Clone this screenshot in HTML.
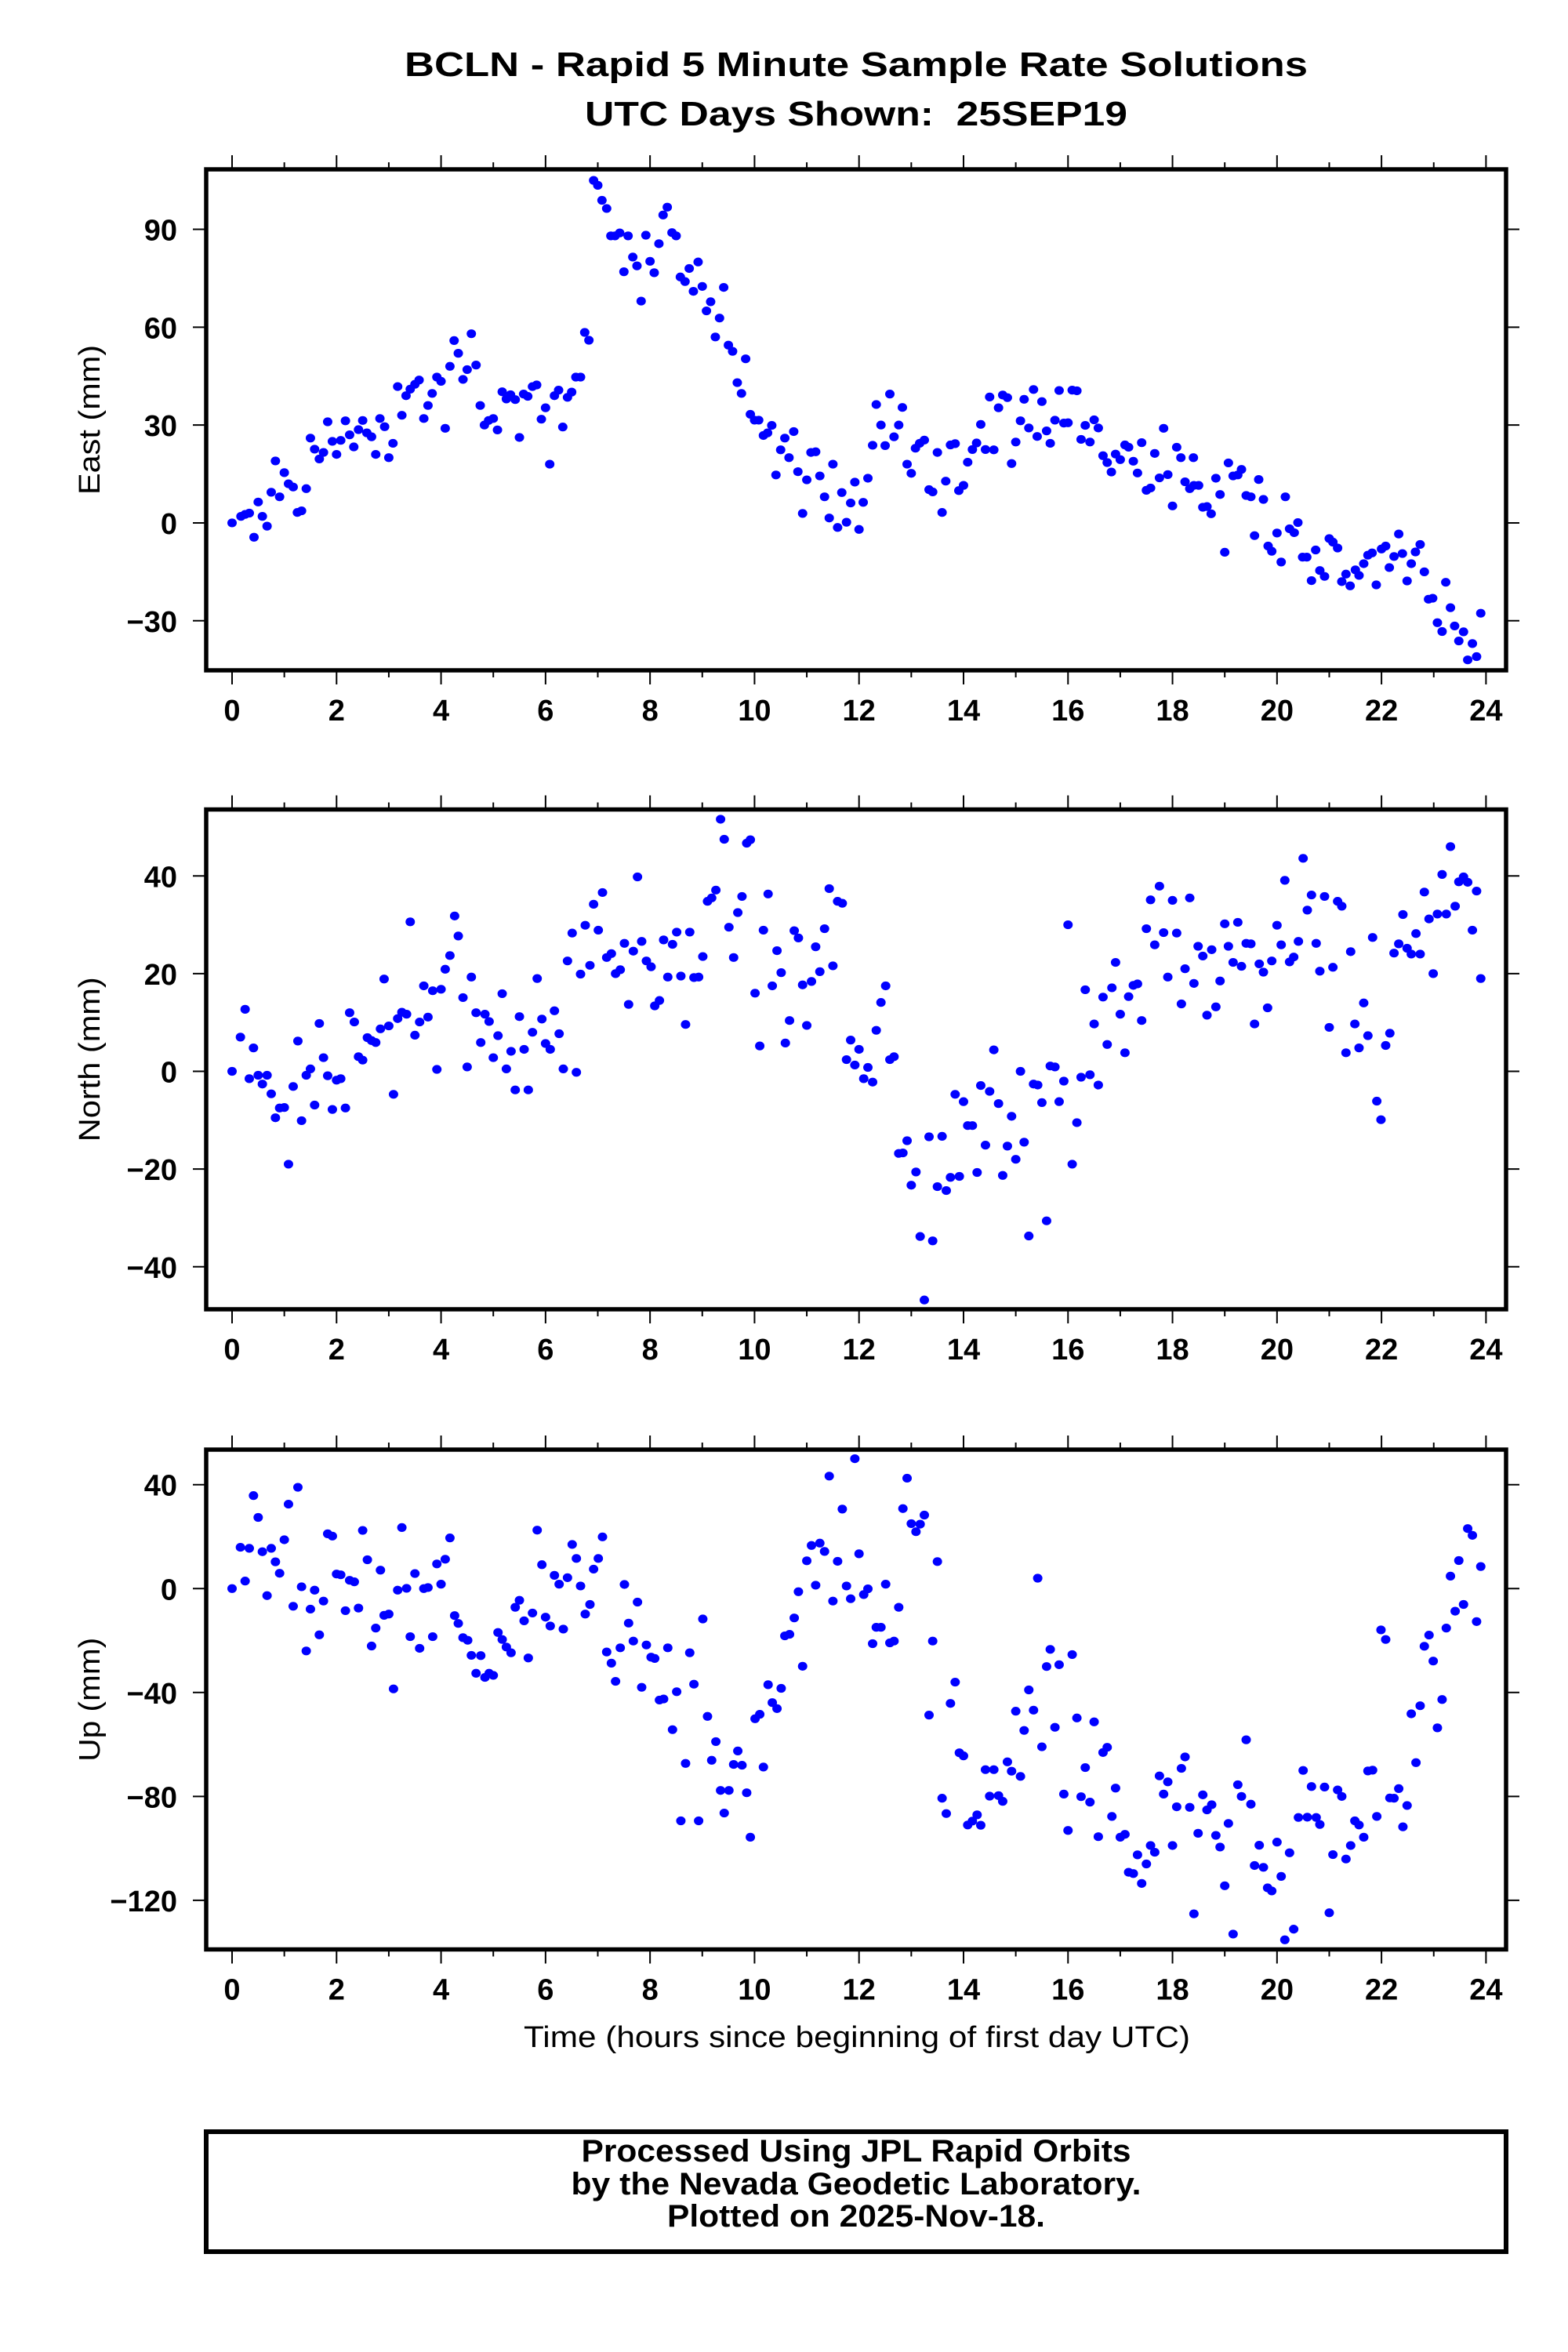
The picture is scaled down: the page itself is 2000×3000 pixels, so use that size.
<!DOCTYPE html>
<html><head><meta charset="utf-8"><title>BCLN Rapid 5 Minute Solutions</title>
<style>html,body{margin:0;padding:0;background:#fff}svg{display:block}text{font-family:"Liberation Sans",Arial,sans-serif}</style>
</head><body>
<svg id="chart" xmlns="http://www.w3.org/2000/svg" width="2000" height="3000" viewBox="0 0 2000 3000">
<rect width="2000" height="3000" fill="#fff"/>
<text x="1092" y="97" font-size="44" font-weight="bold" text-anchor="middle" textLength="1152" lengthAdjust="spacingAndGlyphs">BCLN - Rapid 5 Minute Sample Rate Solutions</text>
<text x="1092" y="160" font-size="44" font-weight="bold" text-anchor="middle" textLength="692" lengthAdjust="spacingAndGlyphs" xml:space="preserve">UTC Days Shown:  25SEP19</text>
<g id="panels"></g>
<text x="1093" y="2611" font-size="38" text-anchor="middle" textLength="850" lengthAdjust="spacingAndGlyphs">Time (hours since beginning of first day UTC)</text>
<rect x="263" y="2719" width="1658" height="153" fill="none" stroke="#000" stroke-width="6"/>
<text x="1092" y="2757" font-size="40" font-weight="bold" text-anchor="middle" textLength="701" lengthAdjust="spacingAndGlyphs">Processed Using JPL Rapid Orbits</text>
<text x="1092" y="2799" font-size="40" font-weight="bold" text-anchor="middle" textLength="727" lengthAdjust="spacingAndGlyphs">by the Nevada Geodetic Laboratory.</text>
<text x="1092" y="2840" font-size="40" font-weight="bold" text-anchor="middle" textLength="482" lengthAdjust="spacingAndGlyphs">Plotted on 2025-Nov-18.</text>
</svg>
<script>
const xTickLabels = ["0","2","4","6","8","10","12","14","16","18","20","22","24"];
const eastTicks = [-30,0,30,60,90];
const northTicks = [-40,-20,0,20,40];
const upTicks = [-120,-80,-40,0,40];

const eastHours = [0,0.17,0.25,0.33,0.42,0.5,0.58,0.67,0.75,0.83,0.91,1.0,1.08,1.17,1.25,1.33,1.42,1.5,1.58,1.67,1.75,1.83,1.92,2.0,2.08,2.17,2.25,2.33,2.42,2.5,2.58,2.67,2.75,2.83,2.92,3.0,3.08,3.17,3.25,3.33,3.41,3.5,3.58,3.67,3.75,3.83,3.92,4.0,4.08,4.17,4.25,4.33,4.42,4.5,4.58,4.67,4.75,4.83,4.91,5.0,5.08,5.17,5.25,5.33,5.42,5.5,5.58,5.66,5.75,5.83,5.92,6.0,6.08,6.17,6.25,6.33,6.42,6.5,6.58,6.67,6.75,6.83,6.92,7.0,7.08,7.17,7.25,7.33,7.42,7.5,7.58,7.67,7.75,7.83,7.92,8.0,8.08,8.17,8.25,8.33,8.42,8.5,8.58,8.67,8.75,8.83,8.92,9.0,9.08,9.16,9.25,9.33,9.41,9.5,9.58,9.67,9.75,9.83,9.92,10.0,10.08,10.17,10.25,10.33,10.41,10.5,10.58,10.66,10.75,10.83,10.92,11.0,11.08,11.17,11.25,11.34,11.43,11.5,11.59,11.67,11.76,11.84,11.92,12.0,12.08,12.17,12.26,12.33,12.42,12.5,12.59,12.67,12.76,12.83,12.92,13.0,13.08,13.16,13.25,13.34,13.41,13.5,13.59,13.66,13.75,13.84,13.91,14.0,14.08,14.17,14.25,14.33,14.42,14.5,14.58,14.67,14.75,14.84,14.92,15.0,15.09,15.16,15.25,15.34,15.41,15.5,15.59,15.66,15.75,15.83,15.92,16.0,16.08,16.17,16.25,16.33,16.42,16.5,16.58,16.67,16.75,16.83,16.91,17.0,17.09,17.16,17.25,17.33,17.41,17.5,17.58,17.66,17.75,17.83,17.91,18.0,18.08,18.16,18.24,18.33,18.4,18.41,18.5,18.58,18.66,18.74,18.83,18.91,19.0,19.07,19.16,19.25,19.32,19.41,19.5,19.57,19.65,19.74,19.83,19.9,20.0,20.08,20.16,20.24,20.33,20.4,20.49,20.57,20.66,20.74,20.82,20.91,21.0,21.07,21.16,21.24,21.32,21.4,21.5,21.57,21.66,21.74,21.82,21.9,22.0,22.08,22.15,22.24,22.33,22.4,22.49,22.57,22.65,22.74,22.82,22.9,22.98,23.07,23.16,23.23,23.32,23.4,23.48,23.57,23.65,23.74,23.82,23.9];
const eastValues = [0,2,2.6,3,-4.4,6.4,2,-1,9.4,19,8,15.4,12,11,3.2,3.7,10.5,26,22.6,19.6,21.6,31,25,21,25.3,31.3,27,23.3,28.6,31.4,27.6,26.4,21,32,29.5,20,24.4,41.8,33,39,41,42.5,43.8,32,36,39.7,44.7,43.4,29,48,55.9,52,44,47,58,48.4,36,30,31.4,32,28.5,40.2,38,39.3,37.8,26.2,39.5,38.8,41.8,42.3,31.8,35.3,18,39,40.7,29.4,38.5,40.1,44.7,44.7,58.4,56,105,103.5,98.9,96.4,88,88,88.9,77,88,81.5,78.8,68,88.2,80.2,76.7,85.6,94.4,96.8,89,88,75.4,74,78,71,80,72.5,65,67.8,57,62.8,72.2,54.5,52.6,43,39.7,50.3,33.3,31.5,31.5,26.8,27.6,29.9,14.7,22.4,26,20,28,15.7,2.9,13.2,21.6,21.8,14.4,8,1.5,18,-1.4,9.3,0.2,6.1,12.5,-2,6.3,13.7,23.8,36.3,30,23.7,39.5,26.4,30,35.4,18,15.2,22.9,24.4,25.4,10.2,9.5,21.6,3.2,12.8,23.9,24.3,9.9,11.5,18.6,22.5,24.5,30.2,22.5,38.6,22.4,35.3,39.2,38.4,18.2,24.8,31.3,37.9,29.1,40.9,26.5,37.2,28.2,24.4,31.5,40.6,30.6,30.7,40.7,40.5,25.6,29.9,24.8,31.6,29.1,20.6,18.5,15.6,21.1,19.4,23.9,23.2,18.9,15.3,24.6,10,10.7,21.3,13.8,29,14.8,5.2,23.2,20,12.6,10.5,20,11.5,11.5,4.8,5,2.8,13.7,8.7,-9,18.4,14.4,14.7,16.4,8.4,8,-3.9,13.3,7.2,-7.1,-8.7,-3.1,-12,8,-1.8,-3,0.1,-10.5,-10.5,-17.7,-8.3,-14.6,-16.4,-4.8,-5.9,-7.7,-18,-15.7,-19.3,-14.4,-16.1,-12.5,-9.9,-9.2,-19,-8,-7.1,-13.7,-10.3,-3.4,-9.4,-17.8,-12.5,-8.9,-6.6,-15,-23.4,-23.1,-30.6,-33.3,-18.2,-26,-31.6,-36.2,-33.4,-42,-37,-41,-27.7];

const northHours = [0,0.16,0.25,0.33,0.41,0.5,0.58,0.67,0.75,0.83,0.91,1.0,1.08,1.17,1.26,1.33,1.42,1.5,1.58,1.67,1.75,1.83,1.92,2.0,2.08,2.17,2.25,2.34,2.42,2.5,2.59,2.67,2.75,2.84,2.91,3.0,3.09,3.17,3.25,3.34,3.41,3.5,3.59,3.67,3.75,3.84,3.92,4.0,4.08,4.17,4.26,4.33,4.42,4.5,4.58,4.67,4.76,4.84,4.92,5.0,5.09,5.17,5.25,5.34,5.42,5.5,5.59,5.67,5.75,5.84,5.93,6.0,6.09,6.17,6.26,6.34,6.42,6.51,6.59,6.67,6.76,6.85,6.92,7.01,7.09,7.17,7.26,7.34,7.43,7.51,7.59,7.68,7.76,7.84,7.93,8.02,8.09,8.18,8.26,8.34,8.43,8.51,8.59,8.68,8.76,8.84,8.93,9.01,9.1,9.18,9.26,9.35,9.42,9.51,9.6,9.68,9.76,9.85,9.92,10.01,10.1,10.17,10.26,10.34,10.43,10.51,10.59,10.67,10.76,10.84,10.92,11.0,11.09,11.17,11.25,11.34,11.43,11.5,11.59,11.68,11.76,11.84,11.92,12.0,12.09,12.17,12.26,12.33,12.42,12.51,12.59,12.67,12.76,12.84,12.92,13.0,13.09,13.17,13.25,13.34,13.41,13.5,13.59,13.67,13.75,13.84,13.92,14.0,14.08,14.17,14.26,14.33,14.42,14.5,14.58,14.67,14.75,14.84,14.92,15.0,15.09,15.16,15.25,15.34,15.42,15.5,15.59,15.66,15.75,15.83,15.92,16.0,16.08,16.17,16.25,16.33,16.42,16.5,16.58,16.67,16.75,16.84,16.91,17.0,17.09,17.16,17.25,17.33,17.41,17.5,17.58,17.66,17.75,17.83,17.91,18.0,18.08,18.17,18.24,18.33,18.41,18.49,18.58,18.66,18.75,18.83,18.91,19.0,19.07,19.16,19.25,19.32,19.41,19.5,19.57,19.66,19.74,19.82,19.9,20.0,20.08,20.15,20.24,20.32,20.41,20.5,20.58,20.66,20.75,20.82,20.91,21.0,21.07,21.16,21.24,21.32,21.41,21.49,21.57,21.66,21.74,21.83,21.91,21.99,22.08,22.16,22.24,22.33,22.41,22.49,22.57,22.66,22.74,22.82,22.91,22.99,23.07,23.16,23.24,23.32,23.41,23.48,23.57,23.65,23.74,23.82,23.9];
const northValues = [0,7,12.7,-1.5,4.8,-0.8,-2.6,-0.8,-4.6,-9.5,-7.5,-7.4,-19,-3.1,6.2,-10.1,-0.8,0.5,-6.9,9.8,2.8,-0.9,-7.8,-1.8,-1.5,-7.5,12,10.1,3,2.3,6.9,6.3,5.9,8.7,18.9,9.3,-4.7,10.8,12.1,11.7,30.6,7.4,10.1,17.5,11.1,16.5,0.4,16.8,20.9,23.7,31.8,27.7,15.1,0.9,19.3,12,5.9,11.7,10.2,2.8,7.3,15.9,0.5,4.1,-3.8,11.2,4.5,-3.8,8,19,10.7,5.7,4.5,12.4,7.7,0.5,22.6,28.3,-0.2,19.9,29.9,21.7,34.2,28.9,36.6,23.3,24.1,20,20.8,26.2,13.7,24.6,39.8,26.6,22.6,21.4,13.4,14.5,26.9,19.3,26,28.5,19.5,9.6,28.5,19.2,19.3,23.5,34.8,35.5,37.1,51.6,47.5,29.5,23.3,32.5,35.8,46.7,47.4,16,5.2,28.9,36.3,17.5,24.7,20.2,5.8,10.4,28.8,27.3,17.7,9.4,18.4,25.5,20.4,29.2,37.4,21.6,34.8,34.4,2.4,6.4,1.3,4.5,-1.5,0.8,-2.2,8.4,14.1,17.5,2.4,3,-16.8,-16.7,-14.2,-23.3,-20.6,-33.8,-46.8,-13.4,-34.7,-23.6,-13.3,-24.4,-21.7,-4.7,-21.5,-6.2,-11.1,-11.1,-20.7,-2.9,-15.1,-4.1,4.4,-6.6,-21.3,-15.3,-9.2,-18,0,-14.5,-33.7,-2.6,-2.8,-6.4,-30.6,1.1,0.9,-6.2,-2,30,-19,-10.5,-1.2,16.7,-0.7,9.7,-2.8,15.2,5.5,17.1,22.3,11.7,3.8,15.3,17.6,17.9,10.4,29.2,35.1,25.9,37.9,28.4,19.3,35,28.3,13.8,21,35.5,18,25.6,23.6,11.5,24.9,13.2,18.5,30.2,25.6,22.3,30.5,21.5,26.2,26.1,9.7,22,20.3,13,22.6,29.9,25.9,39.1,22.4,23.4,26.6,43.6,33,36.1,26.2,20.5,35.8,9,21.3,34.8,33.8,3.8,24.5,9.7,4.8,14,7.3,27.4,-6.1,-9.9,5.3,7.8,24.2,26.1,32.1,25.2,24,28.2,24,36.7,31.2,20,32.2,40.3,32.2,46,33.8,38.8,39.8,38.7,28.9,36.9,19];

const upHours = [0,0.16,0.25,0.33,0.41,0.5,0.58,0.67,0.75,0.83,0.91,1.0,1.08,1.17,1.26,1.33,1.42,1.5,1.58,1.67,1.75,1.83,1.92,2.0,2.08,2.17,2.25,2.34,2.42,2.5,2.59,2.67,2.75,2.84,2.91,3.0,3.09,3.17,3.25,3.34,3.41,3.5,3.59,3.67,3.75,3.84,3.92,4.0,4.08,4.17,4.26,4.33,4.42,4.51,4.58,4.67,4.76,4.84,4.92,5.0,5.09,5.17,5.25,5.34,5.42,5.5,5.59,5.67,5.75,5.84,5.93,6.0,6.09,6.17,6.26,6.34,6.42,6.51,6.59,6.67,6.76,6.85,6.92,7.01,7.09,7.17,7.26,7.34,7.43,7.51,7.59,7.68,7.76,7.84,7.93,8.02,8.09,8.18,8.26,8.34,8.43,8.51,8.59,8.68,8.76,8.84,8.93,9.01,9.1,9.18,9.26,9.35,9.42,9.51,9.6,9.68,9.76,9.85,9.92,10.01,10.1,10.17,10.26,10.34,10.43,10.51,10.58,10.67,10.76,10.84,10.92,11.0,11.09,11.17,11.25,11.34,11.43,11.5,11.59,11.68,11.76,11.84,11.92,12.0,12.09,12.17,12.26,12.33,12.42,12.51,12.59,12.67,12.76,12.84,12.92,13.0,13.09,13.17,13.25,13.34,13.41,13.5,13.59,13.67,13.75,13.84,13.92,14.0,14.08,14.17,14.26,14.33,14.42,14.5,14.58,14.67,14.75,14.84,14.92,15.0,15.09,15.16,15.25,15.34,15.42,15.5,15.59,15.66,15.75,15.83,15.92,16.0,16.08,16.17,16.25,16.33,16.42,16.5,16.58,16.67,16.75,16.84,16.91,17.0,17.09,17.16,17.25,17.33,17.41,17.5,17.58,17.66,17.75,17.83,17.91,18.0,18.08,18.17,18.24,18.33,18.41,18.49,18.58,18.66,18.75,18.83,18.91,19.0,19.07,19.16,19.25,19.32,19.41,19.5,19.57,19.66,19.74,19.82,19.9,20.0,20.08,20.15,20.24,20.32,20.41,20.5,20.58,20.66,20.75,20.82,20.91,21.0,21.07,21.16,21.24,21.32,21.41,21.49,21.57,21.66,21.74,21.83,21.91,21.99,22.08,22.16,22.24,22.33,22.41,22.49,22.57,22.66,22.74,22.82,22.91,22.99,23.07,23.16,23.24,23.32,23.41,23.48,23.57,23.65,23.74,23.82,23.9];
const upValues = [0,15.9,2.9,15.5,35.8,27.4,14.2,-2.7,15.5,10.3,5.9,18.8,32.5,-6.8,39,0.7,-24,-7.9,-0.6,-17.8,-4.8,21.1,20.2,5.6,5.3,-8.5,3.2,2.6,-7.5,22.4,11.1,-22.1,-15.2,7.1,-10.3,-9.8,-38.6,-0.6,23.5,0.1,-18.5,5.8,-23,0,0.4,-18.5,9.5,1.7,11.3,19.5,-10.4,-13.4,-18.9,-19.9,-25.7,-32.6,-25.8,-34.2,-32.6,-33.4,-16.9,-19.6,-22.5,-24.7,-7.2,-4.5,-12.4,-26.7,-9.4,22.5,9.2,-11,-14.4,5.1,1.7,-15.6,4.2,17,11.6,1,-9.8,-6.1,7.5,11.6,19.9,-24.4,-28.7,-35.7,-22.8,1.6,-13.3,-20.2,-5.2,-38,-21.7,-26.4,-26.9,-42.9,-42.5,-22.8,-54.3,-39.7,-89.4,-67.3,-24.7,-36.8,-89.4,-11.7,-49.2,-66.1,-58.9,-77.7,-86.4,-77.7,-67.7,-62.5,-68,-78.6,-95.7,-50.1,-48.4,-68.7,-37,-43.9,-46.2,-38.4,-18.2,-17.6,-11.3,-1.2,-29.9,10.7,16.6,1.3,17.5,14.3,43.3,-4.8,10.5,30.6,1,-3.9,50,13.4,-2.3,-0.1,-21.2,-14.9,-14.9,1.7,-20.9,-20.2,-7.2,30.8,42.5,25,21.9,24.8,28.3,-48.7,-20.2,10.4,-80.7,-86.6,-44.2,-36,-63.2,-64.4,-91,-89.5,-87.1,-91.1,-69.7,-79.9,-69.7,-79.7,-81.9,-66.7,-70.3,-47.2,-72.3,-54.6,-39,-46.8,4,-60.9,-30,-23.4,-53.4,-29.3,-79.1,-93.1,-25.4,-49.8,-80.1,-68.9,-82.2,-51.3,-95.5,-63.1,-61.1,-87.7,-76.8,-95.7,-94.6,-109.2,-109.7,-102.5,-113.5,-106,-98.9,-101.5,-72.1,-79.1,-74.4,-98.9,-84,-69.2,-64.8,-84.2,-125.2,-94.2,-79.4,-85.2,-83.2,-95,-99.5,-114.4,-90.4,-133,-75.5,-80,-58.2,-83,-106.6,-98.8,-107.3,-115.2,-116.4,-97.6,-110.8,-135.2,-101.7,-131.1,-88.1,-70,-88,-76.2,-88.1,-90.8,-76.4,-124.8,-102.4,-77.5,-80,-104.1,-98.9,-89.4,-91,-95.7,-70.2,-69.9,-87.7,-15.9,-19.6,-80.6,-80.7,-77,-91.7,-83.5,-48.2,-67,-45.1,-22.2,-17.9,-27.9,-53.6,-42.7,-15.2,4.8,-8.7,10.8,-6.1,23.1,20.5,-12.7,8.5];

const NS = "http://www.w3.org/2000/svg";
const FL = 263, FR = 1921;
function xScale(h){ return 296 + h * (1895.4 - 296) / 24; }
function mk(tag, attrs, parent){ const e = document.createElementNS(NS, tag); for (const k in attrs) e.setAttribute(k, attrs[k]); parent.appendChild(e); return e; }

const panelsG = document.getElementById('panels');
function drawPanel(name, label, labelLen, top, bottom, vmin, vmax, ticks, hours, values){
  const g = mk('g', {}, panelsG);
  
  
  const yScale = v => bottom - (v - vmin) / (vmax - vmin) * (bottom - top);
  for (let h = 0; h <= 24; h++){
    const x = xScale(h), len = (h % 2 === 0) ? 18 : 9;
    const t1 = mk('line', {x1:x, x2:x, y1:top, y2:top-len, stroke:'#000', 'stroke-width':2}, g);
    
    
    const t2 = mk('line', {x1:x, x2:x, y1:bottom, y2:bottom+len, stroke:'#000', 'stroke-width':2}, g);
    
    
  }
  xTickLabels.forEach((lab) => {
    const t = mk('text', {x:xScale(+lab), y:bottom+64, 'font-size':38, 'font-weight':'bold', 'text-anchor':'middle'}, g);
    t.textContent = lab;
    
    
  });
  ticks.forEach(v => {
    const y = yScale(v);
    const a = mk('line', {x1:FL, x2:FL-17, y1:y, y2:y, stroke:'#000', 'stroke-width':2}, g);
    
    
    const b = mk('line', {x1:FR, x2:FR+17, y1:y, y2:y, stroke:'#000', 'stroke-width':2}, g);
    
    
    const t = mk('text', {x:226, y:y+14, 'font-size':38, 'font-weight':'bold', 'text-anchor':'end'}, g);
    t.textContent = v < 0 ? '\u2212' + Math.abs(v) : String(v);
    
    
  });
  const cy = (top + bottom) / 2;
  const yl = mk('text', {x:127, y:cy, 'font-size':38, 'text-anchor':'middle', transform:'rotate(-90 127 ' + cy + ')', textLength:labelLen, lengthAdjust:'spacingAndGlyphs'}, g);
  yl.textContent = label;
  
  
  const pts = mk('g', {fill:'#0000ff'}, g);
  
  
  for (let i = 0; i < hours.length; i++){
    const c = mk('ellipse', {cx:xScale(hours[i]), cy:yScale(values[i]), rx:6, ry:5.6}, pts);
    
    
  }
  const fr = mk('rect', {x:FL, y:top, width:FR-FL, height:bottom-top, fill:'none', stroke:'#000', 'stroke-width':5.5}, g);
  
  
}
drawPanel('east', 'East (mm)', 191, 216, 855, -45.2, 108.4, eastTicks, eastHours, eastValues);
drawPanel('north', 'North (mm)', 210, 1032.5, 1670, -48.7, 53.6, northTicks, northHours, northValues);
drawPanel('up', 'Up (mm)', 158, 1849, 2486.5, -138.9, 53.5, upTicks, upHours, upValues);
</script>
</body></html>
